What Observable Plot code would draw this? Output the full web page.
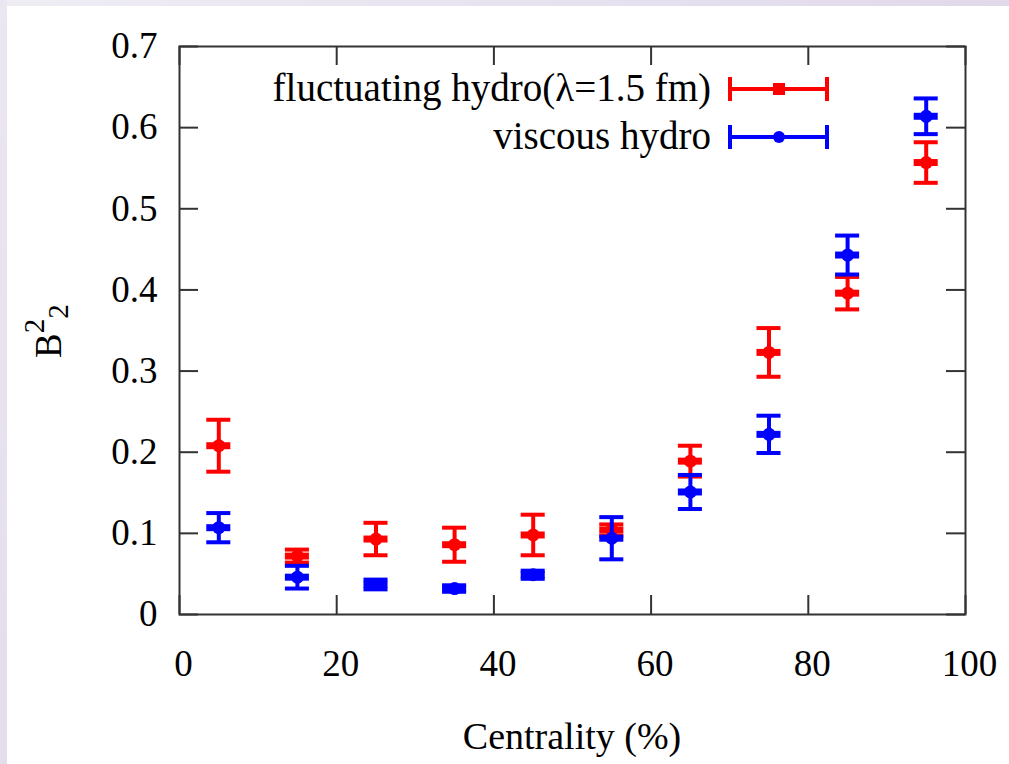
<!DOCTYPE html>
<html><head><meta charset="utf-8">
<script src="https://cdn.jsdelivr.net/npm/d3@7"></script>
<script src="https://cdn.jsdelivr.net/npm/@observablehq/plot@0.6"></script>
<style>
html,body{margin:0;padding:0;background:#fff;}
#wrap{position:relative;width:1009px;height:764px;overflow:hidden;background:#fff;}
#topstrip{position:absolute;left:0;top:0;width:1009px;height:6px;background:linear-gradient(to right,#efedf4,#e0d9ea);}
#leftstrip{position:absolute;left:0;top:0;width:7px;height:764px;background:linear-gradient(to bottom,#ebe7f1,#e3ddec);}
#chart{position:absolute;left:0;top:0;}
</style></head>
<body>
<div id="wrap"><div id="topstrip"></div><div id="leftstrip"></div><div id="chart"></div></div>
<script>
// ---- data ----
const centrality = [5, 15, 25, 35, 45, 55, 65, 75, 85, 95];
const fluctValue = [0.208, 0.072, 0.093, 0.086, 0.098, 0.104, 0.189, 0.323, 0.396, 0.557];
const fluctError = [0.032, 0.008, 0.020, 0.021, 0.025, 0.007, 0.019, 0.030, 0.020, 0.025];
const viscValue  = [0.107, 0.046, 0.037, 0.032, 0.049, 0.094, 0.151, 0.222, 0.443, 0.614];
const viscError  = [0.018, 0.014, 0.006, 0.004, 0.005, 0.026, 0.021, 0.023, 0.024, 0.022];
const xTicks = [0, 20, 40, 60, 80, 100];
const yTicks = [0, 0.1, 0.2, 0.3, 0.4, 0.5, 0.6, 0.7];
const seriesNames = ["fluctuating hydro(\u03bb=1.5 fm)", "viscous hydro"];
const seriesColors = ["#ff0000", "#0000ff"];

const fluct = centrality.map((c, i) => ({x: c, y: fluctValue[i], e: fluctError[i]}));
const visc = centrality.map((c, i) => ({x: c, y: viscValue[i], e: viscError[i]}));

const W = 1009, H = 764;
const mL = 179, mR = 44, mT = 46, mB = 150;
const innerW = W - mL - mR, innerH = H - mT - mB;
const tickLen = 19;
const capHalf = 1.53; // half cap width in x units
const frameColor = "#333";
const FONT = "Liberation Serif, Times New Roman, serif";

function errMarks(data, color) {
  return [
    Plot.ruleX(data, {x: "x", y1: d => d.y - d.e, y2: d => d.y + d.e, stroke: color, strokeWidth: 4}),
    Plot.ruleY(data, {y: d => d.y + d.e, x1: d => d.x - capHalf, x2: d => d.x + capHalf, stroke: color, strokeWidth: 4}),
    Plot.ruleY(data, {y: d => d.y - d.e, x1: d => d.x - capHalf, x2: d => d.x + capHalf, stroke: color, strokeWidth: 4}),
    Plot.ruleY(data, {y: "y", x1: d => d.x - capHalf, x2: d => d.x + capHalf, stroke: color, strokeWidth: 7}),
    Plot.dot(data, {x: "x", y: "y", r: 6.5, fill: color, stroke: "none"})
  ];
}

const chart = Plot.plot({
  width: W, height: H,
  marginLeft: mL, marginRight: mR, marginTop: mT, marginBottom: mB,
  style: {fontFamily: FONT, fontSize: "37px", color: "#000", background: "transparent"},
  x: {domain: [0, 100]},
  y: {domain: [0, 0.7]},
  marks: [
    Plot.tickX(xTicks, {x: d => d, insetTop: innerH - tickLen, stroke: frameColor, strokeWidth: 2}),
    Plot.tickX(xTicks, {x: d => d, insetBottom: innerH - tickLen, stroke: frameColor, strokeWidth: 2}),
    Plot.tickY(yTicks, {y: d => d, insetRight: innerW - tickLen, stroke: frameColor, strokeWidth: 2}),
    Plot.tickY(yTicks, {y: d => d, insetLeft: innerW - tickLen, stroke: frameColor, strokeWidth: 2}),
    Plot.axisX({ticks: xTicks, tickSize: 0, tickPadding: 35, dx: 4, label: null, tickFormat: d => String(d)}),
    Plot.axisY({ticks: yTicks, tickSize: 0, tickPadding: 22, label: null, tickFormat: d => d === 0 ? "0" : d3.format(".1f")(d)}),
    ...errMarks(fluct, seriesColors[0]),
    ...errMarks(visc, seriesColors[1]),
    Plot.frame({stroke: frameColor, strokeWidth: 2})
  ]
});
document.getElementById("chart").appendChild(chart);

const svg = d3.select(chart);
// x axis title
svg.append("text").attr("x", mL + innerW / 2).attr("y", 749).attr("text-anchor", "middle")
  .attr("font-family", FONT).attr("font-size", 38).attr("fill", "#000")
  .text("Centrality (%)");
// y axis title  B^2_2
const yt = svg.append("text").attr("transform", "translate(61,358) rotate(-90)")
  .attr("text-anchor", "start")
  .attr("font-family", FONT).attr("font-size", 37).attr("fill", "#000");
yt.append("tspan").text("B");
yt.append("tspan").attr("font-size", 29).attr("dy", -17).text("2");
yt.append("tspan").attr("font-size", 29).attr("dy", 24).text("2");

// legend
const legY = [89, 137];
seriesNames.forEach((name, i) => {
  const g = svg.append("g");
  const y = legY[i];
  g.append("text").attr("x", 711).attr("y", y + 12).attr("text-anchor", "end")
    .attr("font-family", FONT).attr("font-size", 39).attr("fill", "#000").text(name);
  g.append("line").attr("x1", 730).attr("x2", 827).attr("y1", y).attr("y2", y).attr("stroke", seriesColors[i]).attr("stroke-width", 4);
  g.append("line").attr("x1", 730).attr("x2", 730).attr("y1", y - 12).attr("y2", y + 12).attr("stroke", seriesColors[i]).attr("stroke-width", 4);
  g.append("line").attr("x1", 827).attr("x2", 827).attr("y1", y - 12).attr("y2", y + 12).attr("stroke", seriesColors[i]).attr("stroke-width", 4);
  if (i === 0) g.append("rect").attr("x", 773).attr("y", y - 6).attr("width", 12).attr("height", 12).attr("fill", seriesColors[i]);
  else g.append("circle").attr("cx", 779).attr("cy", y).attr("r", 6).attr("fill", seriesColors[i]);
});
</script>
</body></html>
